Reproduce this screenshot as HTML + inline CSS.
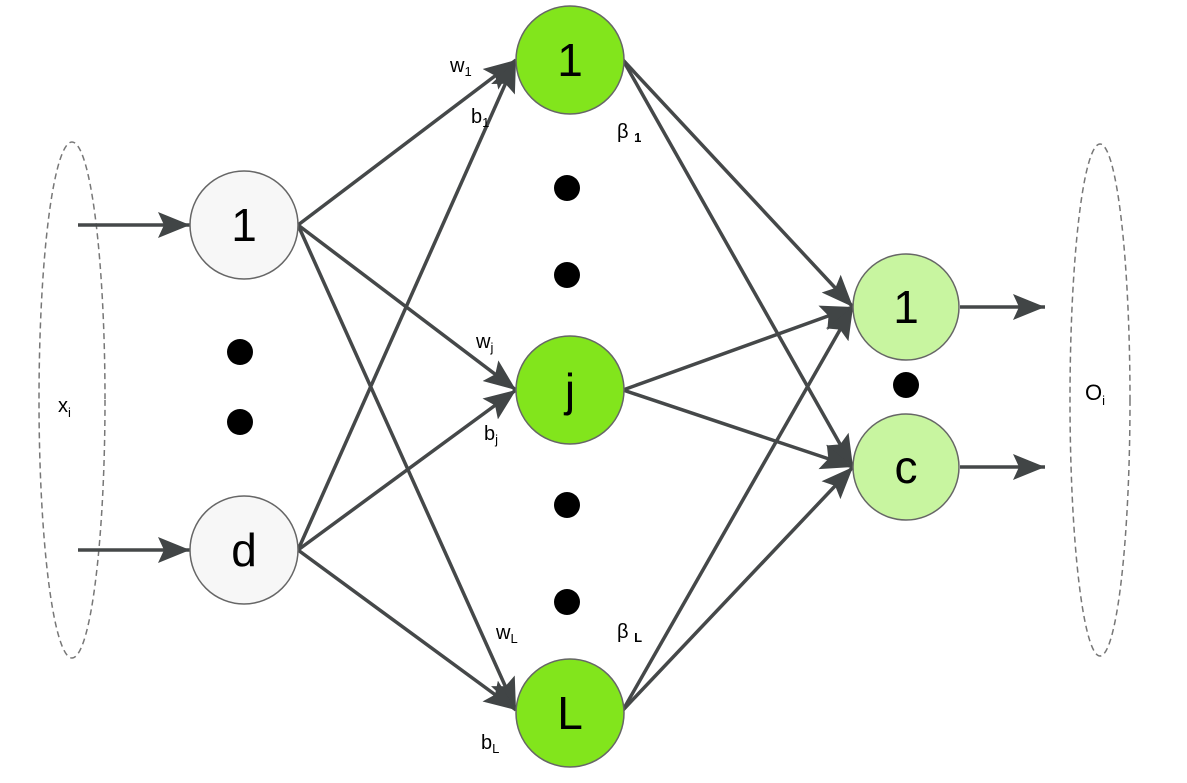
<!DOCTYPE html>
<html><head><meta charset="utf-8"><style>
html,body{margin:0;padding:0;background:#fff;}
svg{display:block;}
text{font-family:"Liberation Sans",sans-serif;fill:#000;}
</style></head><body>
<svg width="1187" height="783" viewBox="0 0 1187 783" xmlns="http://www.w3.org/2000/svg">
<defs>
<marker id="a" markerUnits="userSpaceOnUse" markerWidth="34" markerHeight="30" refX="32" refY="15" orient="auto">
<path d="M0,2 L32,15 L0,28 L6,15 Z" fill="#414546"/>
</marker>
</defs>
<!-- dashed ellipses -->
<ellipse cx="72" cy="400" rx="33" ry="258" fill="none" stroke="#777" stroke-width="1.5" stroke-dasharray="6,4"/>
<ellipse cx="1100" cy="400" rx="30" ry="256" fill="none" stroke="#777" stroke-width="1.5" stroke-dasharray="6,4"/>
<text x="58" y="412" font-size="20">x<tspan font-size="13" dy="5">i</tspan></text>
<text x="1085" y="400" font-size="22">O<tspan font-size="13" dy="5">i</tspan></text>
<g stroke="#454849" stroke-width="3.5" fill="none" marker-end="url(#a)">
<line x1="78" y1="225" x2="190" y2="225"/>
<line x1="78" y1="550" x2="190" y2="550"/>
<line x1="298" y1="225" x2="516" y2="60"/>
<line x1="298" y1="225" x2="516" y2="390"/>
<line x1="298" y1="225" x2="516" y2="710"/>
<line x1="298" y1="550" x2="516" y2="60"/>
<line x1="298" y1="550" x2="516" y2="390"/>
<line x1="298" y1="550" x2="516" y2="710"/>
<line x1="623" y1="60" x2="853" y2="307"/>
<line x1="623" y1="60" x2="853" y2="467"/>
<line x1="623" y1="390" x2="853" y2="307"/>
<line x1="623" y1="390" x2="853" y2="467"/>
<line x1="623" y1="710" x2="853" y2="307"/>
<line x1="623" y1="710" x2="853" y2="467"/>
<line x1="960" y1="307" x2="1045" y2="307"/>
<line x1="960" y1="467" x2="1045" y2="467"/>
</g>
<!-- nodes -->
<g stroke="#666" stroke-width="1.5">
<circle cx="244" cy="225" r="54" fill="#f7f7f7"/>
<circle cx="244" cy="550" r="54" fill="#f7f7f7"/>
<circle cx="570" cy="60" r="54" fill="#82e51c"/>
<circle cx="570" cy="390" r="54" fill="#82e51c"/>
<circle cx="570" cy="713" r="54" fill="#82e51c"/>
<circle cx="906" cy="307" r="53" fill="#c8f5a0"/>
<circle cx="906" cy="467" r="53" fill="#c8f5a0"/>
</g>
<g font-size="46" text-anchor="middle">
<text x="244" y="241">1</text>
<text x="244" y="566">d</text>
<text x="570" y="76">1</text>
<text x="570" y="406">j</text>
<text x="570" y="729">L</text>
<text x="906" y="323">1</text>
<text x="906" y="483">c</text>
</g>
<!-- dots -->
<g fill="#000">
<circle cx="240" cy="352" r="13"/>
<circle cx="240" cy="422" r="13"/>
<circle cx="567" cy="188" r="13"/>
<circle cx="567" cy="275" r="13"/>
<circle cx="567" cy="505" r="13"/>
<circle cx="567" cy="602" r="13"/>
<circle cx="906" cy="385" r="13"/>
</g>
<!-- labels -->
<g font-size="20">
<text x="450" y="72">w<tspan font-size="13" dy="4">1</tspan></text>
<text x="471" y="123">b<tspan font-size="13" dy="4">1</tspan></text>
<text x="617" y="138">β <tspan font-size="13" font-weight="bold" dy="4">1</tspan></text>
<text x="476" y="348">w<tspan font-size="13" dy="4">j</tspan></text>
<text x="484" y="440">b<tspan font-size="13" dy="4">j</tspan></text>
<text x="496" y="639">w<tspan font-size="13" dy="4">L</tspan></text>
<text x="617" y="638">β <tspan font-size="13" font-weight="bold" dy="4">L</tspan></text>
<text x="481" y="749">b<tspan font-size="13" dy="4">L</tspan></text>
</g>
</svg>
</body></html>
